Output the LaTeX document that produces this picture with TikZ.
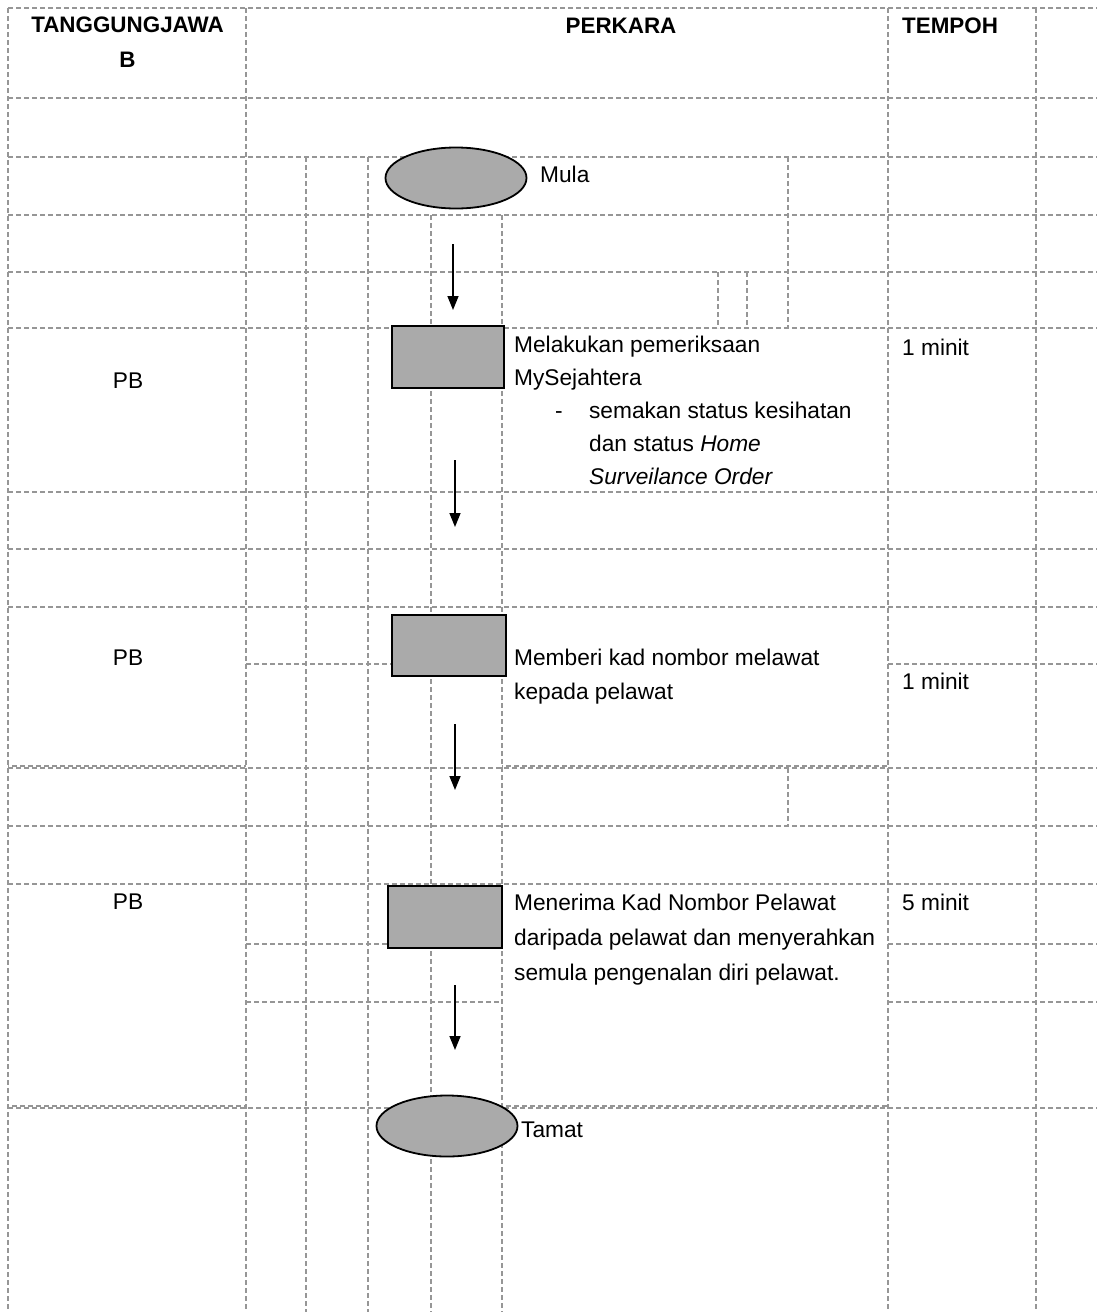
\documentclass[tikz,border=0pt]{standalone}
\usepackage{fontspec}
\setmainfont{Liberation Sans}
\usetikzlibrary{shapes.geometric,arrows.meta}
\definecolor{gridc}{RGB}{150,150,150}
\definecolor{boxfill}{RGB}{170,170,170}
\tikzset{
  gridline/.style={gridc, line width=1.4pt, dash pattern=on 5pt off 3pt},
  termshape/.style={ellipse, draw=black, line width=1.8pt, fill=boxfill, minimum width=141pt, minimum height=61pt, inner sep=0pt},
  procbox/.style={rectangle, draw=black, line width=1.8pt, fill=boxfill, inner sep=0pt},
  flowarrow/.style={-{Triangle[length=14pt,width=11pt]}, line width=1.5pt, black},
  txt/.style={anchor=base west, inner sep=0pt, font=\fontsize{22.7}{33}\selectfont, align=left},
  hdr/.style={anchor=base, inner sep=0pt, font=\bfseries\fontsize{22.4}{33}\selectfont},
}
\begin{document}
\begin{tikzpicture}[x=1pt,y=-1pt]
\useasboundingbox (0,0) rectangle (1097,1312);
% ---- grid: horizontal ----
\foreach \y in {8,98,157,215,272,328,492,549,607,768,826,884,1108}
  \draw[gridline] (8,\y) -- (1097,\y);
\draw[gridline] (246,664) -- (392,664);
\draw[gridline] (888,664) -- (1097,664);
\draw[gridline] (246,944) -- (388,944);
\draw[gridline] (888,944) -- (1097,944);
\draw[gridline] (246,1002) -- (502,1002);
\draw[gridline] (888,1002) -- (1097,1002);
\foreach \y in {766,1106}{
  \draw[gridline, dash phase=4pt] (8,\y) -- (246,\y);
  \draw[gridline, dash phase=4pt] (502,\y) -- (888,\y);
}
% ---- grid: vertical ----
\foreach \x in {8,246,888,1036}
  \draw[gridline] (\x,8) -- (\x,1312);
\foreach \x in {306,368}
  \draw[gridline] (\x,157) -- (\x,1312);
\foreach \x in {431,502}
  \draw[gridline] (\x,215) -- (\x,1312);
\foreach \x in {718,747}
  \draw[gridline] (\x,272) -- (\x,328);
\draw[gridline] (788,157) -- (788,328);
\draw[gridline] (788,768) -- (788,826);
% ---- header ----
\node[hdr] (h1) at (127.5,32) {TANGGUNGJAWA};
\node[hdr] (h1b) at (127.5,67) {B};
\node[hdr] (h2) at (621,33) {PERKARA};
\node[hdr, anchor=base west] (h3) at (902,33) {TEMPOH};
% ---- shapes ----
\node[termshape] (mula) at (456,178) {};
\node[procbox, minimum width=112pt, minimum height=62pt] (r1) at (448,357) {};
\node[procbox, minimum width=114pt, minimum height=61pt] (r2) at (449,645.5) {};
\node[procbox, minimum width=114pt, minimum height=62pt] (r3) at (445,917) {};
\node[termshape] (tamat) at (447,1126) {};
% ---- labels (base = baseline of last line) ----
\node[txt] (lmula) at (540,182) {Mula};
\node[txt] (ltamat) at (521,1137) {Tamat};
\node[txt] (t1) at (514,484) {Melakukan pemeriksaan\\
MySejahtera\\
\hspace*{41pt}-\hspace*{26.4pt}semakan status kesihatan\\
\hspace*{75pt}dan status \textit{Home}\\
\hspace*{75pt}\textit{Surveilance Order}};
\node[txt] (t2) at (514,699) {Memberi kad nombor melawat\\[1pt]
kepada pelawat};
\node[txt] (t3) at (514,980) {Menerima Kad Nombor Pelawat\\[2pt]
daripada pelawat dan menyerahkan\\[2pt]
semula pengenalan diri pelawat.};
\node[txt] (m1) at (902,355) {1 minit};
\node[txt] (m2) at (902,689) {1 minit};
\node[txt] (m3) at (902,910) {5 minit};
\node[hdr, font=\fontsize{22.7}{33}\selectfont] (pb1) at (128,388) {PB};
\node[hdr, font=\fontsize{22.7}{33}\selectfont] (pb2) at (128,665) {PB};
\node[hdr, font=\fontsize{22.7}{33}\selectfont] (pb3) at (128,909) {PB};
% ---- arrows ----
\coordinate (a1s) at (453,244); \coordinate (a1e) at (453,310);
\coordinate (a2s) at (455,460); \coordinate (a2e) at (455,527);
\coordinate (a3s) at (455,724); \coordinate (a3e) at (455,790);
\coordinate (a4s) at (455,985); \coordinate (a4e) at (455,1050);
\draw[flowarrow] (a1s) -- (a1e);
\draw[flowarrow] (a2s) -- (a2e);
\draw[flowarrow] (a3s) -- (a3e);
\draw[flowarrow] (a4s) -- (a4e);
\end{tikzpicture}
\end{document}
